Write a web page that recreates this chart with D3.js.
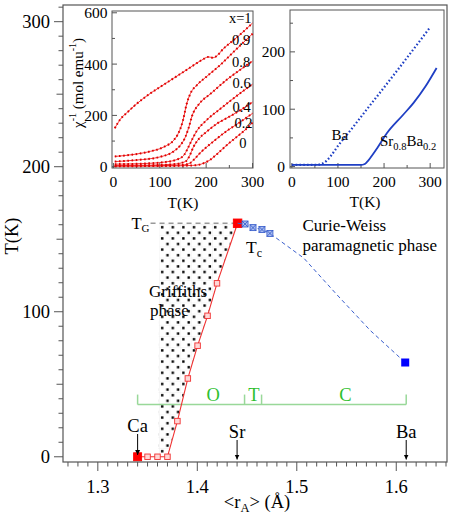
<!DOCTYPE html>
<html><head><meta charset="utf-8">
<script src="https://cdn.jsdelivr.net/npm/d3@7"></script>
<style>
body{margin:0;background:#fff}
svg text{font-family:"Liberation Serif","DejaVu Serif","Times New Roman",Times,serif;fill:#000}
</style>
</head><body>
<svg id="c" width="452" height="522" font-family="Liberation Serif, DejaVu Serif, serif"></svg>
<script>
// ---------------- DATA ----------------
// main panel
const mainXTicks = [1.3, 1.4, 1.5, 1.6];
const mainYTicks = [0, 100, 200, 300];
// Tc(r) line (red), first = Ca, last = Tc max
const tcR = [1.34, 1.35, 1.36, 1.37, 1.380, 1.3905, 1.4003, 1.4103, 1.4198, 1.4405];
const tcT = [0, 0, 0, 0, 24.6, 54, 76.6, 97.2, 119.6, 161];
// Curie-Weiss branch (blue)
const cwR = [1.4405, 1.448, 1.456, 1.465, 1.473, 1.507, 1.540, 1.574, 1.609];
const cwT = [161, 160.5, 158, 156.7, 154, 137, 112, 87, 65];
const cwMarkR = [1.448, 1.456, 1.465, 1.473];
const cwMarkT = [160.5, 158, 156.7, 154];
const baR = 1.609, baT = 65;
// Griffiths temperature line and region left boundary
const tgR = [1.353, 1.4405];
const tgT = [161, 161];
const griffLeftR = [1.3605, 1.362];
const griffLeftT = [2, 161];
// structure bar
const structR = [1.34, 1.4475, 1.4646, 1.61];
const structT = 36;
const structLabels = ["O", "T", "C"];
const structLabelR = [1.416, 1.457, 1.549];
// element arrows
const elemNames = ["Ca", "Sr", "Ba"];
const elemR = [1.34, 1.44, 1.61];

// left inset: inverse susceptibility
const insetLXTicks = [0, 100, 200, 300];
const insetLYTicks = [0, 200, 400, 600];
const chiLabels = ["x=1", "0.9", "0.8", "0.6", "0.4", "0.2", "0"];
const chiLabelT = [298, 295, 295, 296, 296, 300, 287];
const chiLabelV = [579, 494, 408, 326, 233, 172, 92];
const chiT_x1 = [3, 15, 30, 50, 75, 100, 130, 160, 190, 205, 215, 240, 270, 300];
const chiV_x1 = [150, 185, 212, 245, 280, 310, 345, 380, 415, 428, 425, 465, 510, 560];
const chiT_x09 = [3, 40, 80, 110, 130, 140, 150, 158, 166, 180, 200, 230, 265, 300];
const chiV_x09 = [40, 47, 60, 78, 103, 130, 180, 245, 285, 318, 350, 396, 458, 518];
const chiT_x08 = [3, 50, 100, 130, 145, 155, 162, 170, 185, 210, 245, 275, 300];
const chiV_x08 = [20, 26, 38, 60, 85, 115, 150, 200, 245, 285, 340, 380, 412];
const chiT_x06 = [3, 60, 110, 140, 152, 160, 168, 180, 200, 230, 260, 300];
const chiV_x06 = [10, 12, 18, 30, 45, 70, 100, 140, 180, 225, 268, 322];
const chiT_x04 = [3, 80, 130, 155, 165, 172, 185, 200, 225, 250, 275, 300];
const chiV_x04 = [5, 6, 10, 20, 45, 75, 110, 135, 170, 195, 222, 252];
const chiT_x02 = [3, 100, 150, 165, 175, 185, 200, 220, 245, 270, 300];
const chiV_x02 = [3, 4, 7, 14, 30, 50, 75, 105, 140, 170, 208];
const chiT_x0 = [3, 120, 170, 185, 195, 208, 225, 245, 265, 285, 300];
const chiV_x0 = [2, 3, 5, 8, 14, 26, 52, 85, 115, 145, 172];

// right inset
const insetRXTicks = [0, 100, 200, 300];
const insetRYTicks = [0, 100, 200];
const baT_ins = [0, 30, 55, 62, 68, 75, 85, 100, 130, 160, 200, 250, 300];
const baV_ins = [3, 3, 3, 4, 6, 10, 19, 36, 66, 97, 138, 190, 243];
const srT_ins = [0, 50, 100, 150, 157, 163, 170, 185, 206, 240, 264, 290, 314];
const srV_ins = [3, 3, 3, 3, 4, 8, 15, 32, 58, 89, 111, 140, 172];

// ---------------- DRAW ----------------
const FONT = "Liberation Serif, DejaVu Serif, serif";
const svg = d3.select("#c");
const AX = "#555";
const zip = (a, b) => a.map((v, i) => [v, b[i]]);
const T = (sel) => sel.append("text").attr("font-family", FONT);

const x = d3.scaleLinear().domain([1.265, 1.651]).range([63, 447]);
const y = d3.scaleLinear().domain([-3.6, 311.5]).range([462, 5]);

// pattern for Griffiths region
const defs = svg.append("defs");
const pat = defs.append("pattern").attr("id", "dots").attr("patternUnits", "userSpaceOnUse")
  .attr("width", 10.6).attr("height", 11.2);
pat.append("rect").attr("width", 10.6).attr("height", 11.2).attr("fill", "#fff");
pat.append("path").attr("d", "M0,0.25H10.6M0.25,0V11.2").attr("stroke", "#ececec").attr("stroke-width", 0.6);
pat.append("rect").attr("x", 2).attr("y", 2).attr("width", 2.4).attr("height", 2.4).attr("fill", "#000");
pat.append("rect").attr("x", 7.3).attr("y", 7.6).attr("width", 2.4).attr("height", 2.4).attr("fill", "#000");
defs.append("marker").attr("id", "arr").attr("viewBox", "0 0 10 10").attr("refX", 10).attr("refY", 5)
  .attr("markerWidth", 5).attr("markerHeight", 6).attr("orient", "auto").attr("markerUnits", "userSpaceOnUse")
  .append("path").attr("d", "M0,0L10,5L0,10z").attr("fill", "#000");

// Griffiths region polygon: left boundary up, then red line down
const redPts = zip(tcR, tcT);
const poly = zip(griffLeftR, griffLeftT).concat(redPts.slice(3).reverse().filter(p => p[1] > 0), [[tcR[3], griffLeftT[0]]]);
svg.append("path").attr("d", d3.line().x(d => x(d[0])).y(d => y(d[1]))(poly) + "Z")
  .attr("fill", "url(#dots)").attr("stroke", "none");

// TG dashed line
svg.append("path").attr("d", d3.line().x(d => x(d[0])).y(d => y(d[1]))(zip(tgR, tgT)))
  .attr("stroke", "#999").attr("stroke-width", 1.4).attr("stroke-dasharray", "5,4").attr("fill", "none");

// green structure bar
const gLine = "#99d899", gText = "#2fbf2f";
svg.append("line").attr("x1", x(structR[0])).attr("x2", x(structR[3])).attr("y1", y(structT)).attr("y2", y(structT))
  .attr("stroke", gLine).attr("stroke-width", 1.5);
structR.forEach(r => svg.append("line").attr("x1", x(r)).attr("x2", x(r)).attr("y1", y(structT)).attr("y2", y(structT) - 10)
  .attr("stroke", gLine).attr("stroke-width", 1.5));
structLabels.forEach((s, i) => T(svg).attr("x", x(structLabelR[i])).attr("y", y(structT) - 4)
  .attr("text-anchor", "middle").attr("font-size", 18.5).style("fill", gText).text(s));

// red Tc line
svg.append("path").attr("d", d3.line().x(d => x(d[0])).y(d => y(d[1]))(redPts))
  .attr("stroke", "#f03030").attr("stroke-width", 1.1).attr("fill", "none");
redPts.forEach((p, i) => {
  const filled = (i === 0 || i === redPts.length - 1);
  const s = i === redPts.length - 1 ? 8.5 : (filled ? 8 : 5.5);
  svg.append("rect").attr("x", x(p[0]) - s / 2).attr("y", y(p[1]) - s / 2).attr("width", s).attr("height", s)
    .attr("fill", filled ? "#ff0000" : "#ffd6d6").attr("stroke", filled ? "#ff0000" : "#f03030").attr("stroke-width", 0.9);
});

// blue Curie-Weiss branch
svg.append("path").attr("d", d3.line().x(d => x(d[0])).y(d => y(d[1]))(zip(cwR, cwT)))
  .attr("stroke", "#3a5fcd").attr("stroke-width", 1).attr("stroke-dasharray", "4,3").attr("fill", "none");
zip(cwMarkR, cwMarkT).forEach(p => {
  const cx = x(p[0]), cy = y(p[1]), h = 3;
  svg.append("rect").attr("x", cx - h).attr("y", cy - h).attr("width", 2 * h).attr("height", 2 * h)
    .attr("fill", "#a9bcf0").attr("stroke", "#2f55c8").attr("stroke-width", 0.8);
  svg.append("path").attr("d", `M${cx - h},${cy - h}L${cx + h},${cy + h}M${cx + h},${cy - h}L${cx - h},${cy + h}`)
    .attr("stroke", "#2f55c8").attr("stroke-width", 0.8);
});
svg.append("rect").attr("x", x(baR) - 4).attr("y", y(baT) - 4).attr("width", 8).attr("height", 8).attr("fill", "#0000ff");

// element arrows
elemNames.forEach((n, i) => {
  const cx = x(elemR[i]);
  const tail = i === 0 ? 434 : 440, tip = i === 0 ? 455 : 459.5;
  svg.append("line").attr("x1", cx).attr("x2", cx).attr("y1", tail).attr("y2", tip)
    .attr("stroke", "#000").attr("stroke-width", 1).attr("marker-end", "url(#arr)");
  T(svg).attr("x", cx).attr("y", tail - 2).attr("text-anchor", "middle").attr("font-size", 18.5).text(n);
});

// annotation texts
const tg = T(svg).attr("x", 131.5).attr("y", 229).attr("font-size", 16.5);
tg.append("tspan").text("T");
tg.append("tspan").attr("font-size", 11).attr("dy", 3).text("G");
const tc = T(svg).attr("x", 246).attr("y", 253).attr("font-size", 17.5);
tc.append("tspan").text("T");
tc.append("tspan").attr("font-size", 12).attr("dy", 4).text("c");
T(svg).attr("x", 302.5).attr("y", 231).attr("font-size", 17).text("Curie-Weiss");
T(svg).attr("x", 302.5).attr("y", 251).attr("font-size", 17).text("paramagnetic phase");
T(svg).attr("x", 149).attr("y", 297).attr("font-size", 17).text("Griffiths");
T(svg).attr("x", 150).attr("y", 315.5).attr("font-size", 17).text("phase");

// main frame and axes
svg.append("rect").attr("x", 63).attr("y", 5).attr("width", 384).attr("height", 457)
  .attr("fill", "none").attr("stroke", AX).attr("stroke-width", 1.2);
const gx = svg.append("g").attr("transform", "translate(0,462)");
d3.range(127, 166).map(d => d / 100).forEach(v => {
  const major = mainXTicks.some(t => Math.abs(t - v) < 1e-6);
  gx.append("line").attr("x1", x(v)).attr("x2", x(v)).attr("y1", 0).attr("y2", major ? 9 : 4.5).attr("stroke", AX).attr("stroke-width", 1);
});
mainXTicks.forEach(v => T(gx).attr("x", x(v)).attr("y", 31).attr("text-anchor", "middle").attr("font-size", 18.5).text(d3.format(".1f")(v)));
const gy = svg.append("g").attr("transform", "translate(63,0)");
d3.range(0, 320, 10).forEach(v => {
  const len = v % 100 === 0 ? 9 : (v % 50 === 0 ? 6.5 : 4.5);
  gy.append("line").attr("x1", 0).attr("x2", -len).attr("y1", y(v)).attr("y2", y(v)).attr("stroke", AX).attr("stroke-width", 1);
});
mainYTicks.forEach(v => T(gy).attr("x", -13).attr("y", y(v)).attr("dy", "0.34em").attr("text-anchor", "end").attr("font-size", 18.5).text(v));
const xt = T(svg).attr("x", 257).attr("y", 508).attr("text-anchor", "middle").attr("font-size", 18.5);
xt.append("tspan").text("<r");
xt.append("tspan").attr("font-size", 12.5).attr("dy", 4).text("A");
xt.append("tspan").attr("dy", -4).text("> (Å)");
T(svg).attr("transform", "translate(17.5,236) rotate(-90)").attr("text-anchor", "middle").attr("font-size", 18.5).text("T(K)");

// ---------------- LEFT INSET ----------------
const xL = d3.scaleLinear().domain([-3, 301]).range([112, 253]);
const yL = d3.scaleLinear().domain([-5, 607]).range([168, 11]);
svg.append("rect").attr("x", 112).attr("y", 11).attr("width", 141).attr("height", 157).attr("fill", "#fff").attr("stroke", AX).attr("stroke-width", 1);
d3.range(0, 301, 50).forEach(v => {
  const len = v % 100 === 0 ? 5 : 3;
  svg.append("line").attr("x1", xL(v)).attr("x2", xL(v)).attr("y1", 168).attr("y2", 168 - len).attr("stroke", AX);
});
d3.range(0, 601, 100).forEach(v => {
  const len = v % 200 === 0 ? 5 : 3;
  svg.append("line").attr("x1", 112).attr("x2", 112 + len).attr("y1", yL(v)).attr("y2", yL(v)).attr("stroke", AX);
});
insetLXTicks.forEach(v => T(svg).attr("x", xL(v)).attr("y", 187).attr("text-anchor", "middle").attr("font-size", 15.5).text(v));
insetLYTicks.forEach(v => T(svg).attr("x", 107.5).attr("y", yL(v)).attr("dy", "0.35em").attr("text-anchor", "end").attr("font-size", 15.5).text(v));
T(svg).attr("x", 183).attr("y", 208).attr("text-anchor", "middle").attr("font-size", 15.5).text("T(K)");
const chiLab = T(svg).attr("transform", "translate(83,83) rotate(-90)").attr("text-anchor", "middle").attr("font-size", 15);
chiLab.append("tspan").text("χ");
chiLab.append("tspan").attr("font-size", 10).attr("dy", -7).text("-1");
chiLab.append("tspan").attr("dy", 7).text(" (mol emu");
chiLab.append("tspan").attr("font-size", 10).attr("dy", -7).text("-1");
chiLab.append("tspan").attr("dy", 7).text(")");

const chiSeries = [[chiT_x1, chiV_x1], [chiT_x09, chiV_x09], [chiT_x08, chiV_x08], [chiT_x06, chiV_x06],
                   [chiT_x04, chiV_x04], [chiT_x02, chiV_x02], [chiT_x0, chiV_x0]];
const lineL = d3.line().x(d => xL(d[0])).y(d => yL(d[1])).curve(d3.curveMonotoneX);
chiSeries.forEach(s => {
  const d = lineL(zip(s[0], s[1]));
  svg.append("path").attr("d", d).attr("fill", "none").attr("stroke", "#ee2020").attr("stroke-width", 0.9);
  svg.append("path").attr("d", d).attr("fill", "none").attr("stroke", "#e00000").attr("stroke-width", 2).attr("stroke-dasharray", "1.6,2.6");
});
chiLabels.forEach((l, i) => T(svg).attr("x", xL(chiLabelT[i])).attr("y", yL(chiLabelV[i])).attr("dy", "0.35em")
  .attr("text-anchor", "end").attr("font-size", 14.5).text(l));

// ---------------- RIGHT INSET ----------------
const xR = d3.scaleLinear().domain([-4, 330]).range([290, 444]);
const yR = d3.scaleLinear().domain([-2.5, 273]).range([168, 10]);
svg.append("rect").attr("x", 290).attr("y", 10).attr("width", 154).attr("height", 158).attr("fill", "#fff").attr("stroke", AX).attr("stroke-width", 1);
d3.range(0, 301, 50).forEach(v => {
  const len = v % 100 === 0 ? 5 : 3;
  svg.append("line").attr("x1", xR(v)).attr("x2", xR(v)).attr("y1", 168).attr("y2", 168 - len).attr("stroke", AX);
});
d3.range(0, 251, 50).forEach(v => {
  const len = v % 100 === 0 ? 5 : 3;
  svg.append("line").attr("x1", 290).attr("x2", 290 + len).attr("y1", yR(v)).attr("y2", yR(v)).attr("stroke", AX);
});
insetRXTicks.forEach(v => T(svg).attr("x", xR(v)).attr("y", 186.5).attr("text-anchor", "middle").attr("font-size", 15.5).text(v));
insetRYTicks.forEach(v => T(svg).attr("x", 285).attr("y", yR(v)).attr("dy", "0.35em").attr("text-anchor", "end").attr("font-size", 15.5).text(v));
T(svg).attr("x", 365).attr("y", 207).attr("text-anchor", "middle").attr("font-size", 15.5).text("T(K)");
const lineR = d3.line().x(d => xR(d[0])).y(d => yR(d[1])).curve(d3.curveMonotoneX);
svg.append("path").attr("d", lineR(zip(baT_ins, baV_ins))).attr("fill", "none").attr("stroke", "#1f3fc4")
  .attr("stroke-width", 2.2).attr("stroke-dasharray", "1.6,2.2");
svg.append("path").attr("d", lineR(zip(srT_ins, srV_ins))).attr("fill", "none").attr("stroke", "#1f3fc4").attr("stroke-width", 1.8);
T(svg).attr("x", xR(86)).attr("y", 140).attr("font-size", 15).text("Ba");
const srl = T(svg).attr("x", xR(191)).attr("y", 146).attr("font-size", 15);
srl.append("tspan").text("Sr");
srl.append("tspan").attr("font-size", 10.5).attr("dy", 3.5).text("0.8");
srl.append("tspan").attr("dy", -3.5).text("Ba");
srl.append("tspan").attr("font-size", 10.5).attr("dy", 3.5).text("0.2");
</script>
</body></html>
